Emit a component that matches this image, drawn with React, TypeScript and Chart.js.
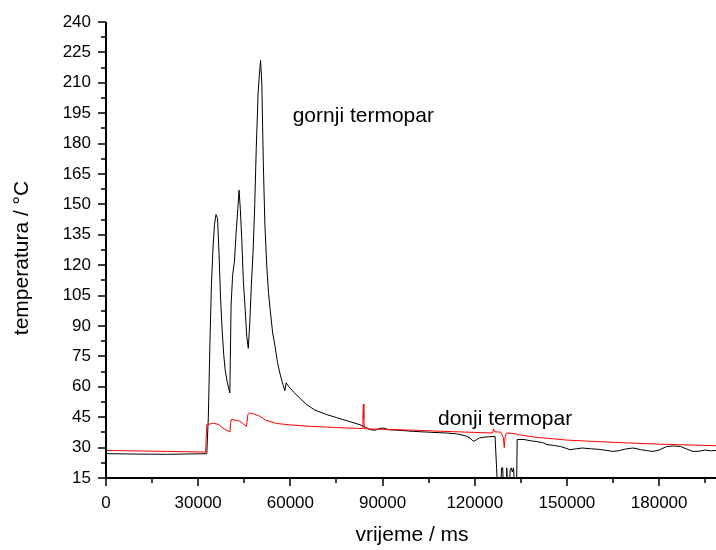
import React, { useEffect, useRef } from 'react';
import { Chart, registerables } from 'chart.js';

Chart.register(...registerables);

const FONT = "'Liberation Sans', Arial, sans-serif";

// gornji termopar (upper thermocouple)
const gornjiTime = [
  0, 10000, 20000, 32800, 33300, 33800, 34300, 34800, 35300, 35800, 36300, 36800, 37300, 37800,
  38300, 38800, 39500, 40300, 40700, 41200, 41800, 42300, 42900, 43300, 43700, 44200, 44700,
  45300, 45800, 46300, 46800, 47300, 47900, 48400, 48900, 49500, 49900, 50300, 50700, 51200,
  51700, 52300, 52900, 53500, 54200, 55000, 55800, 56700, 57600, 58200, 58600, 59500, 61000,
  63000, 65300, 68000, 71800, 75000, 77200, 80000, 82650, 84500, 85900, 87500, 89000, 90500,
  92000, 95700, 100000, 105000, 110800, 114000, 117000, 118400, 119500, 120500, 121500, 124000,
  126600, 127100, 127400, 128500, 128700, 129100, 129300, 130200, 130400, 130700, 131300, 131500,
  131900, 132200, 132600, 133000, 133600, 133800, 136000, 138000, 140000, 142000, 143500, 146000,
  148000, 150000, 151000, 153000, 155000, 158000, 160000, 163000, 165000, 167000, 169000, 171500,
  174000, 176000, 178000, 180000, 182400, 185000, 187000, 189000, 191000, 193000, 195000, 197000,
  199000,
];
const gornjiTemp = [
  27.0, 26.8, 26.7, 27.0, 45, 80, 110, 128, 140, 145, 143, 125, 103, 88,
  76, 68, 62, 57, 100, 115, 122, 135, 148, 157, 148, 132, 112,
  98, 85, 79, 92, 110, 128, 150, 178, 205, 214, 221, 210, 170,
  140, 120, 106, 97, 87, 80, 72, 66, 61, 58, 62, 60, 57.5,
  54.5, 51.2, 48.5, 46.3, 44.8, 43.8, 42.5, 41.3, 40, 38.9, 38.5, 39.5, 39.6,
  38.8, 38.5, 38, 37.6, 37.2, 36.8, 35.8, 34.8, 33.1, 33.8, 34.8, 35.3,
  35.5, 20, 10, 10, 20, 20, 10, 10, 20, 10, 10, 19,
  20, 18, 20, 10, 10, 34, 34, 33.4, 33, 32.5, 31.5, 31,
  30.5, 29.5, 29, 29.4, 29.8, 29.4, 29.2, 28.6, 28.1, 28.5, 29.3, 29.8,
  29, 28.5, 28.1, 28.8, 30.5, 30.8, 30.5, 29.3, 28.1, 28.2, 28.8, 28.4,
  28.7,
];

// donji termopar (lower thermocouple)
const donjiTime = [
  0, 32400, 32800, 34900, 36500, 38500, 40300, 40700, 42000, 43600, 45700, 46200, 46700, 48000,
  50000, 52000, 55500, 60000, 66400, 75000, 83400, 83600, 83750, 83900, 84100, 90000, 100000,
  110000, 120000, 125800, 126100, 126500, 128500, 129300, 129600, 129900, 130300, 132000, 133400,
  133800, 140000, 150000, 165000, 180000, 199000,
];
const donjiTemp = [
  28.6, 27.8, 41.3, 42.0, 41.5, 39.2, 37.7, 43.8, 43.6, 43.0, 40.5, 46.5, 47.1, 46.6,
  45.5, 43.5, 41.9, 41.2, 40.5, 39.9, 39.4, 45, 51.5, 44, 39.3, 39.0, 38.6,
  38.0, 37.5, 37.2, 39.3, 37.8, 37.6, 35, 30, 35.5, 37.2, 37, 36.8,
  36.4, 35.1, 33.7, 32.6, 31.7, 30.9,
];

const xMin = 0;
const xMax = 198500;
const yMin = 15;
const yMax = 240;
const xTickValues = [0, 15000, 30000, 45000, 60000, 75000, 90000, 105000, 120000, 135000, 150000, 165000, 180000, 195000];
const xTickLabels = ['0', '', '30000', '', '60000', '', '90000', '', '120000', '', '150000', '', '180000', ''];
const yTickValues = [15, 22.5, 30, 37.5, 45, 52.5, 60, 67.5, 75, 82.5, 90, 97.5, 105, 112.5, 120, 127.5, 135, 142.5, 150, 157.5, 165, 172.5, 180, 187.5, 195, 202.5, 210, 217.5, 225, 232.5, 240];
const yTickLabels = yTickValues.map((v) => (v % 15 === 0 ? String(v) : ''));

const xTitle = 'vrijeme / ms';
const yTitle = 'temperatura / °C';
const labelTexts = ['gornji termopar', 'donji termopar'];
const labelX = [60750, 108030];
const labelY = [190.5, 41.3];

export default function App() {
  const ref = useRef<HTMLCanvasElement>(null);

  useEffect(() => {
    if (!ref.current) return;

    const axesPlugin = {
      id: 'axesPlugin',
      afterDraw(chart: any) {
        const { ctx, chartArea } = chart;
        const xs = chart.scales.x;
        const ys = chart.scales.y;
        ctx.save();
        ctx.strokeStyle = '#000';
        ctx.lineWidth = 2;
        ctx.lineCap = 'butt';
        ctx.beginPath();
        ctx.moveTo(chartArea.left, chartArea.top);
        ctx.lineTo(chartArea.left, chartArea.bottom + 1);
        ctx.moveTo(chartArea.left - 1, chartArea.bottom);
        ctx.lineTo(chartArea.right, chartArea.bottom);
        ctx.stroke();
        ctx.lineWidth = 1.5;
        ctx.beginPath();
        yTickValues.forEach((v, i) => {
          const py = Math.round(ys.getPixelForValue(v));
          const len = yTickLabels[i] ? 8 : 5;
          ctx.moveTo(chartArea.left - len, py);
          ctx.lineTo(chartArea.left, py);
        });
        xTickValues.forEach((v, i) => {
          const px = Math.round(xs.getPixelForValue(v));
          const len = xTickLabels[i] ? 8 : 5;
          ctx.moveTo(px, chartArea.bottom);
          ctx.lineTo(px, chartArea.bottom + len);
        });
        ctx.stroke();

        ctx.fillStyle = '#000';
        ctx.font = `21px ${FONT}`;
        ctx.textAlign = 'left';
        ctx.textBaseline = 'alphabetic';
        labelTexts.forEach((t, i) => {
          ctx.fillText(t, xs.getPixelForValue(labelX[i]), ys.getPixelForValue(labelY[i]));
        });

        // axis titles
        ctx.textAlign = 'center';
        ctx.fillText(xTitle, 412, 541);
        ctx.save();
        ctx.translate(28, 258);
        ctx.rotate(-Math.PI / 2);
        ctx.fillText(yTitle, 0, 0);
        ctx.restore();
        ctx.restore();
      },
    };

    const chart = new Chart(ref.current, {
      type: 'line',
      data: {
        datasets: [
          {
            label: 'donji termopar',
            data: donjiTime.map((t, i) => ({ x: t, y: donjiTemp[i] })),
            borderColor: '#ff0000',
            borderWidth: 1,
            pointRadius: 0,
            tension: 0,
            fill: false,
          },
          {
            label: 'gornji termopar',
            data: gornjiTime.map((t, i) => ({ x: t, y: gornjiTemp[i] })),
            borderColor: '#000000',
            borderWidth: 1,
            pointRadius: 0,
            tension: 0,
            fill: false,
          },
        ],
      },
      options: {
        animation: false,
        responsive: false,
        layout: { padding: { top: 22, right: 0, bottom: 0, left: 0 } },
        plugins: {
          legend: { display: false },
          tooltip: { enabled: false },
        },
        scales: {
          x: {
            type: 'linear',
            min: xMin,
            max: xMax,
            grid: { display: false, drawTicks: false },
            border: { display: false },
            afterFit(scale: any) {
              scale.height = 72;
              scale.paddingLeft = 0;
              scale.paddingRight = 0;
            },
            afterBuildTicks(scale: any) {
              scale.ticks = xTickValues.map((v) => ({ value: v }));
            },
            ticks: {
              autoSkip: false,
              maxRotation: 0,
              minRotation: 0,
              padding: 15,
              color: '#000',
              font: { family: FONT, size: 17 },
              callback: (_v: any, i: number) => xTickLabels[i] ?? '',
            },
          },
          y: {
            type: 'linear',
            min: yMin,
            max: yMax,
            grid: { display: false, drawTicks: false },
            border: { display: false },
            afterFit(scale: any) {
              scale.width = 106;
              scale.paddingTop = 0;
              scale.paddingBottom = 0;
            },
            afterBuildTicks(scale: any) {
              scale.ticks = yTickValues.map((v) => ({ value: v }));
            },
            ticks: {
              autoSkip: false,
              padding: 15,
              color: '#000',
              font: { family: FONT, size: 17 },
              callback: (_v: any, i: number) => yTickLabels[i] ?? '',
            },
          },
        },
      },
      plugins: [axesPlugin],
    });

    return () => chart.destroy();
  }, []);

  return (
    <div style={{ position: 'absolute', left: 0, top: 0, width: 716, height: 550, background: '#fff' }}>
      <canvas ref={ref} width={716} height={550} style={{ width: 716, height: 550, display: 'block' }} />
    </div>
  );
}
